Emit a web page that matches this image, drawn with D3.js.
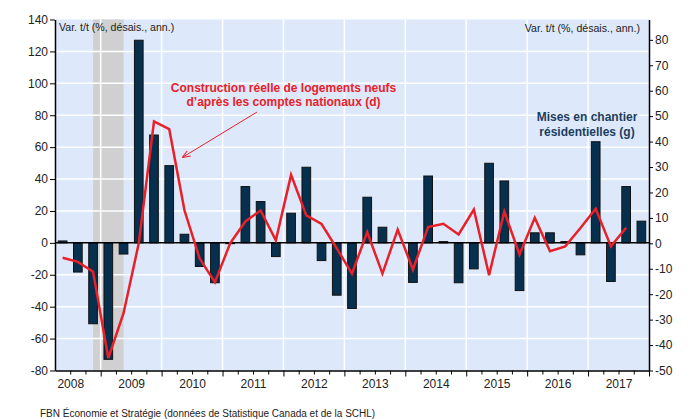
<!DOCTYPE html>
<html>
<head>
<meta charset="utf-8">
<script src="https://cdn.jsdelivr.net/npm/d3@7"></script>
<style>
  body { margin: 0; background: #fff; }
  svg { font-family: Arial, "Liberation Sans", sans-serif; }
</style>
</head>
<body>
<svg id="chart" width="689" height="419"></svg>
<script>
// quarters 2008T2 .. 2017T4
let quarters = [
  '2008T2','2008T3','2008T4',
  '2009T1','2009T2','2009T3','2009T4',
  '2010T1','2010T2','2010T3','2010T4',
  '2011T1','2011T2','2011T3','2011T4',
  '2012T1','2012T2','2012T3','2012T4',
  '2013T1','2013T2','2013T3','2013T4',
  '2014T1','2014T2','2014T3','2014T4',
  '2015T1','2015T2','2015T3','2015T4',
  '2016T1','2016T2','2016T3','2016T4',
  '2017T1','2017T2','2017T3','2017T4'
];

// Mises en chantier résidentielles (g), left axis
let mises = [
  1.2, -18.3, -50.7,
  -73, -7, 127, 67.6,
  48.4, 5.4, -14.8, -25,
  -0.5, 35.3, 25.9, -8.6,
  18.6, 47.4, -11.1, -32.8,
  -41.1, 28.6, 9.8, 0,
  -24.8, 41.9, 0.8, -25,
  -16.3, 49.9, 38.8, -29.9,
  6.3, 6.3, 0.8, -7.5,
  63.4, -24.2, 35.3, 13.6
];

// Construction réelle de logements neufs (d), right axis, 2008T2 .. 2017T3
let construction = [
  -5.7, -7.3, -11.2,
  -45.1, -27.5, 0, 47.9,
  44.9, 13, -6, -15.3,
  0, 8.6, 12.9, 1.2,
  26.9, 11, 7.6, -2,
  -11.9, 4.4, -11.9, 5.4,
  -10.3, 6.4, 7.7, 3.5,
  13.3, -12.5, 12.5, -4.4,
  10, -3.1, -1.2, 6,
  13.6, -1.2, 6.1
];

let years = [2008, 2009, 2010, 2011, 2012, 2013, 2014, 2015, 2016, 2017];
let leftTicks = [-80, -60, -40, -20, 0, 20, 40, 60, 80, 100, 120, 140];
let rightTicks = [-50, -40, -30, -20, -10, 0, 10, 20, 30, 40, 50, 60, 70, 80];
let recession = ['2008T4', '2009T2'];

// quarter label -> decimal year at the middle of the quarter
let qMid = q => +q.slice(0, 4) + (+q.slice(5) - 1) / 4 + 0.125;

let svg = d3.select('#chart');
let width = 689, height = 419;
let margin = { left: 55, right: 40, top: 19.5, bottom: 48.5 };

let x = d3.scaleLinear()
  .domain([2008.25, 2018])
  .range([margin.left, width - margin.right]);

let yL = d3.scaleLinear()
  .domain([-80, 140])
  .range([height - margin.bottom, margin.top]);

let yR = d3.scaleLinear()
  .domain([-50, 88])
  .range([height - margin.bottom, margin.top]);

let step = x(2008.5) - x(2008.25);
let barW = step * 0.57;

// plot background
svg.append('rect')
  .attr('x', x.range()[0]).attr('y', margin.top)
  .attr('width', x.range()[1] - x.range()[0])
  .attr('height', height - margin.bottom - margin.top)
  .attr('fill', '#dde9fb');

// recession shading
svg.append('rect')
  .attr('x', x(qMid(recession[0])))
  .attr('y', margin.top)
  .attr('width', x(qMid(recession[1])) - x(qMid(recession[0])))
  .attr('height', height - margin.bottom - margin.top)
  .attr('fill', '#d0d0d0');

// grid
let grid = svg.append('g').attr('stroke', '#fff').attr('stroke-width', 1.5);
grid.selectAll('line.h').data(leftTicks.filter(d => d > -80 && d < 140)).enter().append('line')
  .attr('x1', x.range()[0]).attr('x2', x.range()[1])
  .attr('y1', d => yL(d)).attr('y2', d => yL(d));
grid.selectAll('line.v').data(years.slice(1)).enter().append('line')
  .attr('x1', d => x(d)).attr('x2', d => x(d))
  .attr('y1', margin.top).attr('y2', height - margin.bottom);

// bars
svg.append('g')
  .selectAll('rect').data(quarters).enter().append('rect')
  .attr('x', d => x(qMid(d)) - barW / 2)
  .attr('y', (d, i) => yL(Math.max(0, mises[i])))
  .attr('width', barW)
  .attr('height', (d, i) => Math.abs(yL(mises[i]) - yL(0)))
  .attr('fill', '#07304f')
  .attr('stroke', '#111')
  .attr('stroke-width', 1);

// zero line
svg.append('line')
  .attr('x1', x.range()[0]).attr('x2', x.range()[1])
  .attr('y1', yL(0)).attr('y2', yL(0))
  .attr('stroke', '#000').attr('stroke-width', 1.5);

// construction line
let line = d3.line()
  .x((d, i) => x(qMid(quarters[i])))
  .y(d => yR(d));

svg.append('path')
  .datum(construction)
  .attr('d', line)
  .attr('fill', 'none')
  .attr('stroke', '#e8202a')
  .attr('stroke-width', 2.5)
  .attr('stroke-linejoin', 'miter');

// axes
let fixAxis = g => {
  g.select('.domain').attr('stroke', '#000').attr('stroke-width', 1.5);
  g.selectAll('.tick line').attr('stroke', '#000');
  g.selectAll('.tick text').attr('fill', '#222').attr('font-size', 12);
};

// plain hyphen for negatives, as in the original
let plain = d => String(d);

svg.append('g')
  .attr('transform', `translate(${margin.left},0)`)
  .call(d3.axisLeft(yL).tickValues(leftTicks).tickSize(5).tickSizeOuter(0).tickPadding(2).tickFormat(plain))
  .call(fixAxis);

svg.append('g')
  .attr('transform', `translate(${width - margin.right},0)`)
  .call(d3.axisRight(yR).tickValues(rightTicks).tickSize(4).tickSizeOuter(0).tickPadding(2).tickFormat(plain))
  .call(fixAxis);

let qBounds = d3.range(2008.5, 2018.01, 0.25).filter(d => d % 1 !== 0);
svg.append('g')
  .attr('transform', `translate(0,${height - margin.bottom})`)
  .call(d3.axisBottom(x).tickValues(qBounds).tickSize(4).tickSizeOuter(0).tickFormat(''))
  .call(fixAxis);

svg.append('g')
  .attr('transform', `translate(0,${height - margin.bottom})`)
  .call(d3.axisBottom(x).tickValues(years.slice(1).concat([2018])).tickSize(6).tickSizeOuter(0).tickFormat(''))
  .call(fixAxis)
  .call(g => g.select('.domain').remove());

svg.append('g')
  .attr('transform', `translate(0,${height - margin.bottom})`)
  .call(d3.axisBottom(x).tickValues(years.map(d => d + 0.5)).tickSize(0).tickPadding(9)
    .tickFormat(d => Math.floor(d)))
  .call(fixAxis)
  .call(g => g.select('.domain').remove());

// axis titles
svg.append('text')
  .attr('x', 59).attr('y', 31)
  .attr('font-size', 10.6).attr('fill', '#222')
  .text('Var. t/t (%, désais., ann.)');

svg.append('text')
  .attr('x', 640).attr('y', 32)
  .attr('text-anchor', 'end')
  .attr('font-size', 10.6).attr('fill', '#222')
  .text('Var. t/t (%, désais., ann.)');

// series labels
svg.append('text')
  .attr('text-anchor', 'middle').attr('font-size', 12).attr('font-weight', 'bold')
  .attr('fill', '#e8202a')
  .selectAll('tspan').data(['Construction réelle de logements neufs', 'd’après les comptes nationaux (d)'])
  .enter().append('tspan')
  .attr('x', 283.5).attr('y', (d, i) => 92 + i * 14)
  .text(d => d);

svg.append('text')
  .attr('text-anchor', 'middle').attr('font-size', 12).attr('font-weight', 'bold')
  .attr('fill', '#1b3d5e')
  .selectAll('tspan').data(['Mises en chantier', 'résidentielles (g)'])
  .enter().append('tspan')
  .attr('x', 587).attr('y', (d, i) => 121 + i * 14.5)
  .text(d => d);

// arrow
svg.append('defs').append('marker')
  .attr('id', 'arrow')
  .attr('viewBox', '0 0 10 10')
  .attr('refX', 9).attr('refY', 5)
  .attr('markerWidth', 8).attr('markerHeight', 8)
  .attr('orient', 'auto')
  .append('path')
  .attr('d', 'M0,1 L10,5 L0,9')
  .attr('fill', 'none')
  .attr('stroke', '#e8202a')
  .attr('stroke-width', 1.3);

svg.append('line')
  .attr('x1', 257).attr('y1', 112)
  .attr('x2', 183).attr('y2', 157)
  .attr('stroke', '#e8202a').attr('stroke-width', 1)
  .attr('marker-end', 'url(#arrow)');

// source
svg.append('text')
  .attr('x', 40).attr('y', 417)
  .attr('font-size', 10).attr('fill', '#222')
  .text('FBN Économie et Stratégie (données de Statistique Canada et de la SCHL)');
</script>
</body>
</html>
